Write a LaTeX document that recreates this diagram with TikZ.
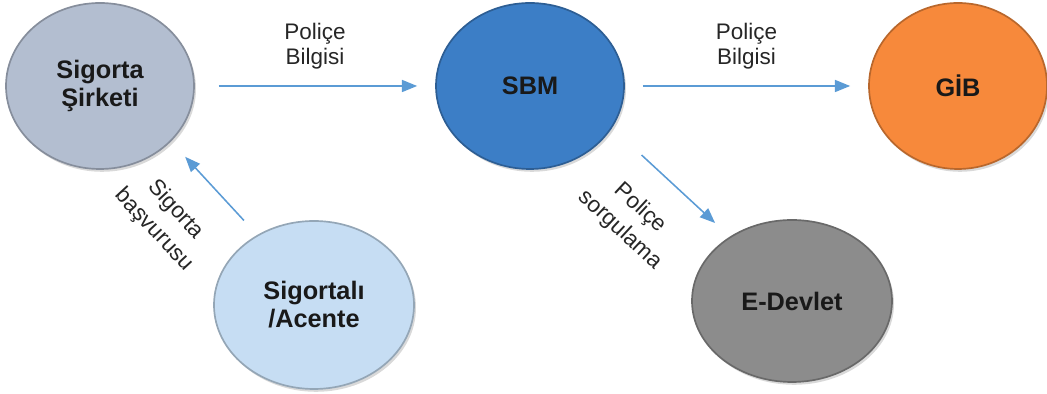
\documentclass[tikz,border=0pt]{standalone}
\usepackage{fontspec}
\setmainfont{Liberation Sans}
\usetikzlibrary{positioning, arrows.meta, shapes.geometric, shadows}

\definecolor{okmavi}{HTML}{5B9BD5}
\definecolor{sirketrenk}{HTML}{B3BED0}
\definecolor{sbmrenk}{HTML}{3C7EC6}
\definecolor{gibrenk}{HTML}{F7893B}
\definecolor{sigortalirenk}{HTML}{C6DDF3}
\definecolor{devletrenk}{HTML}{8C8C8C}

\tikzset{
	kurum/.style={ellipse, minimum width=4.7cm, minimum height=4.15cm, inner sep=0pt, align=center,
		font=\fontsize{18}{20}\selectfont\bfseries, text=black!90, line width=1.2pt,
		fill=#1, draw=#1!75!black, drop shadow={opacity=0.3, shadow xshift=0.05cm, shadow yshift=-0.07cm}},
	akis/.style={-{Triangle[length=0.38cm, width=0.3cm]}, line width=1.1pt, draw=okmavi, fill=okmavi,
		shorten <=0.45cm, shorten >=0.45cm},
	etiket/.style={inner sep=0pt, align=center, font=\fontsize{16}{18}\selectfont, text=black!85},
	egik/.style={etiket, sloped, font=\fontsize{16}{21}\selectfont}
}

\begin{document}
\begin{tikzpicture}[on grid]
	\useasboundingbox (0,0) rectangle (26.175,9.85);
	
	\node[kurum=sirketrenk] (sirket) at (2.5,7.7) {Sigorta\\Şirketi};
	\node[kurum=sbmrenk, right=10.75cm of sirket] (sbm) {SBM};
	\node[kurum=gibrenk, right=10.7cm of sbm, minimum width=4.45cm] (gib) {GİB};
	\node[kurum=sigortalirenk, below right=5.475cm and 5.35cm of sirket, minimum width=5cm, minimum height=4.2cm] (sigortali) {Sigortalı\\/Acente};
	\node[kurum=devletrenk, below right=5.375cm and 6.55cm of sbm, minimum width=5cm, minimum height=4.05cm] (edevlet) {E-Devlet};
	
	\draw[akis, shorten <=0.6cm] (sirket) -- node[etiket, above=0.4cm] (bilgi1) {Poliçe\\Bilgisi} (sbm);
	\draw[akis] (sbm) -- node[etiket, above=0.4cm] (bilgi2) {Poliçe\\Bilgisi} (gib);
	\draw[akis, shorten <=0.49cm, shorten >=0.52cm] (sigortali.129) -- node[egik, pos=0.58, below=0.8cm] (basvuru) {Sigorta\\başvurusu} (sirket.-38);
	\draw[akis, shorten <=1cm, shorten >=0.5cm] (sbm.-27) -- node[egik, pos=0.47, below=0.72cm] (sorgu) {Poliçe\\sorgulama} (edevlet.134);
\end{tikzpicture}
\end{document}
